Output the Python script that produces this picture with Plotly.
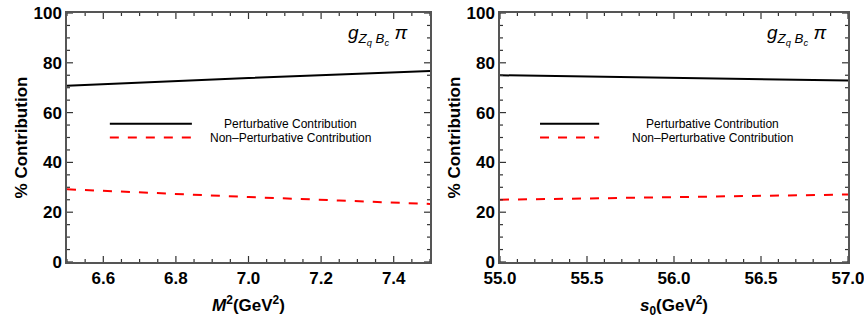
import plotly.graph_objects as go

# Left panel data: M^2 (GeV^2)
m2 = [6.5, 6.75, 7.0, 7.25, 7.5]
pert_m2 = [70.8, 72.4, 73.9, 75.3, 76.7]
nonpert_m2 = [29.2, 27.6, 26.1, 24.7, 23.3]

# Right panel data: s0 (GeV^2)
s0 = [55.0, 55.5, 56.0, 56.5, 57.0]
pert_s0 = [75.0, 74.5, 74.0, 73.4, 72.9]
nonpert_s0 = [25.0, 25.5, 26.0, 26.6, 27.1]

# tick settings: (first tick, step, minor step)
y_tick0, y_dtick, y_minor = 0, 20, 5
x1_tick0, x1_dtick, x1_minor = 6.6, 0.2, 0.05
x2_tick0, x2_dtick, x2_minor = 55.0, 0.5, 0.1

legend_labels = ["Perturbative Contribution", "Non\u2013Perturbative Contribution"]

TICKC = "#333"
LINEC = "#555"
tickfont = dict(family="Liberation Sans", size=17, color="black", weight="bold")
titlefont = dict(family="Liberation Sans", size=17, color="black", weight="bold")

xdom1 = [67 / 864, 430 / 864]
xdom2 = [500 / 864, 848 / 864]
ydom = [1 - 262 / 325, 1 - 13 / 325]
xr1 = [6.5, 7.5]
xr2 = [55.0, 57.0]
yr = [0, 100]

fig = go.Figure()
fig.add_trace(go.Scatter(x=m2, y=pert_m2, mode="lines", line=dict(color="black", width=2), xaxis="x", yaxis="y", showlegend=False))
fig.add_trace(go.Scatter(x=m2, y=nonpert_m2, mode="lines", line=dict(color="red", width=2, dash="dash"), xaxis="x", yaxis="y", showlegend=False))
fig.add_trace(go.Scatter(x=s0, y=pert_s0, mode="lines", line=dict(color="black", width=2), xaxis="x2", yaxis="y2", showlegend=False))
fig.add_trace(go.Scatter(x=s0, y=nonpert_s0, mode="lines", line=dict(color="red", width=2, dash="dash"), xaxis="x2", yaxis="y2", showlegend=False))


def main_x(domain, rng, t0, dt, title, anchor):
    return dict(domain=domain, range=rng, tickmode="linear", tick0=t0, dtick=dt, tickformat=".1f",
                automargin=False, ticks="", ticklabeloverflow="allow",
                showline=True, mirror=True, linecolor=LINEC, linewidth=1.5,
                showgrid=False, zeroline=False, tickfont=tickfont, anchor=anchor,
                title=dict(text=title, font=titlefont, standoff=12))


def main_y(domain, anchor):
    return dict(domain=domain, range=yr, tickmode="linear", tick0=y_tick0, dtick=y_dtick,
                automargin=False, ticks="", ticklabeloverflow="allow",
                showline=True, mirror=True, linecolor=LINEC, linewidth=1.5,
                showgrid=False, zeroline=False, tickfont=tickfont, anchor=anchor,
                title=dict(text="% Contribution", font=titlefont, standoff=2))


fig.update_layout(
    width=864, height=325, margin=dict(l=0, r=0, t=0, b=0),
    paper_bgcolor="white", plot_bgcolor="white",
    xaxis=main_x(xdom1, xr1, x1_tick0, x1_dtick, "<i>M</i><sup>2</sup>(GeV<sup>2</sup>)", "y"),
    yaxis=main_y(ydom, "x"),
    xaxis2=main_x(xdom2, xr2, x2_tick0, x2_dtick, "<i>s</i><sub>0</sub>(GeV<sup>2</sup>)", "y2"),
    yaxis2=main_y(ydom, "x2"),
)


def tick_values(lo, hi, t0, step):
    vals = []
    k = round((lo - t0) / step) - 1
    while True:
        v = round(t0 + k * step, 6)
        if v > hi + 1e-9:
            break
        if v >= lo - 1e-9:
            vals.append(v)
        k += 1
    return vals


# inward ticks on all four sides (drawn through each panel's own axes)
plot_h = 249.0
for xa, ya, rng, t0, dt, mdt, width_px in [("x", "y", xr1, x1_tick0, x1_dtick, x1_minor, 363.0),
                                           ("x2", "y2", xr2, x2_tick0, x2_dtick, x2_minor, 348.0)]:
    majors_x = tick_values(rng[0], rng[1], t0, dt)
    for v in tick_values(rng[0], rng[1], t0, mdt):
        ln = (6 if any(abs(v - m) < 1e-6 for m in majors_x) else 3) / plot_h
        for y0, y1 in [(0, ln), (1, 1 - ln)]:
            fig.add_shape(type="line", xref=xa, yref=ya + " domain", x0=v, x1=v, y0=y0, y1=y1,
                          line=dict(color=TICKC, width=1.2))
    majors_y = tick_values(yr[0], yr[1], y_tick0, y_dtick)
    for v in tick_values(yr[0], yr[1], y_tick0, y_minor):
        ln = (6 if any(abs(v - m) < 1e-6 for m in majors_y) else 3) / width_px
        for x0, x1 in [(0, ln), (1, 1 - ln)]:
            fig.add_shape(type="line", xref=xa + " domain", yref=ya, x0=x0, x1=x1, y0=v, y1=v,
                          line=dict(color=TICKC, width=1.2))

label = "<i>g</i><sub><i>Z<sub>q</sub> B<sub>c</sub></i></sub> <i>π</i>"
for xr, yrf, lx0, lx1, tx in [("x domain", "y domain", 0.118, 0.344, 0.615),
                               ("x2 domain", "y2 domain", 0.115, 0.285, 0.61)]:
    fig.add_annotation(x=0.945, y=0.97, xref=xr, yref=yrf, text=label, showarrow=False,
                       xanchor="right", font=dict(family="Liberation Sans", size=19, color="black"))
    for i, (lab, col, dash) in enumerate(zip(legend_labels, ["black", "red"], ["solid", "dash"])):
        yy = 0.555 - i * 0.055
        fig.add_shape(type="line", xref=xr, yref=yrf, x0=lx0, x1=lx1, y0=yy, y1=yy,
                      line=dict(color=col, width=2, dash=dash))
        fig.add_annotation(x=tx, y=yy, xref=xr, yref=yrf, text=lab, showarrow=False,
                           xanchor="center", font=dict(family="Liberation Sans", size=12, color="black"))

fig.write_html("out.html")
